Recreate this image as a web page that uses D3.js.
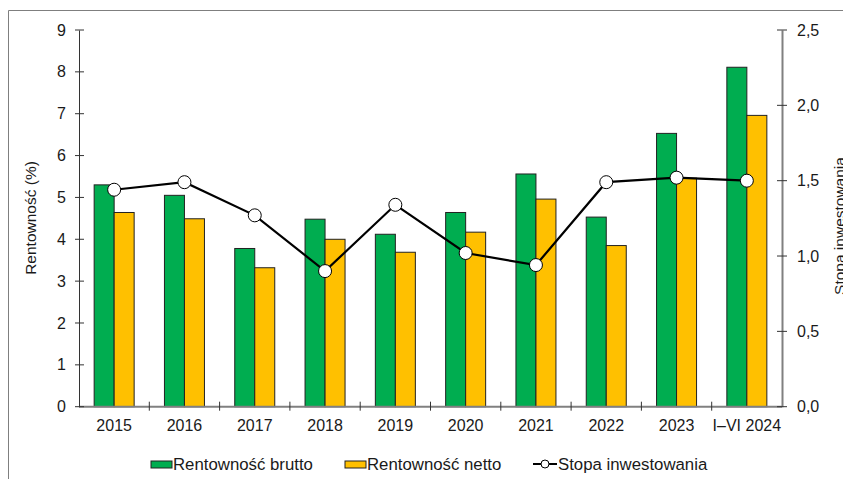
<!DOCTYPE html>
<html><head><meta charset="utf-8">
<script src="https://cdn.jsdelivr.net/npm/d3@7"></script>
<style>
html,body{margin:0;padding:0;background:#fff;}
svg{display:block;font-family:"Liberation Sans",Arial,sans-serif;}
</style></head>
<body>
<svg id="chart" width="843" height="479"></svg>
<script>
const categories = ["2015","2016","2017","2018","2019","2020","2021","2022","2023","I–VI 2024"];
const brutto = [5.30,5.05,3.78,4.48,4.12,4.64,5.56,4.53,6.53,8.11];
const netto  = [4.64,4.49,3.32,4.00,3.69,4.17,4.96,3.85,5.46,6.96];
const stopa  = [1.44,1.49,1.27,0.90,1.34,1.02,0.94,1.49,1.52,1.50];
const leftTicks = [0,1,2,3,4,5,6,7,8,9];
const rightTicks = [0,0.5,1.0,1.5,2.0,2.5];
const seriesNames = ["Rentowność brutto","Rentowność netto"];
const lineName = "Stopa inwestowania";
const leftTitle = "Rentowność (%)";

const svg = d3.select("#chart");
const L = 79, R = 782, T = 30, B = 406.7;
const green = "#00AD50", yellow = "#FFC000";
const FS = 16;

// frame
svg.append("path").attr("d", "M8.5,479 L8.5,10.5 L843,10.5").attr("fill","none").attr("stroke","#7f7f7f").attr("stroke-width",1);

const x = d3.scaleBand().domain(categories).range([L, R]).padding(0);
const y = d3.scaleLinear().domain([0, 9]).range([B, T]);
const y2 = d3.scaleLinear().domain([0, 2.5]).range([B, T]);
const bw = x.bandwidth();
const xs = d3.scaleBand().domain([0,1]).range([bw*0.2155, bw*0.7845]).padding(0);

// bars
const data = categories.map((c,i)=>({c, v:[brutto[i], netto[i]]}));
const g = svg.append("g");
data.forEach(d=>{
  d.v.forEach((v,j)=>{
    g.append("rect")
      .attr("x", x(d.c) + xs(j))
      .attr("y", y(v))
      .attr("width", xs.bandwidth())
      .attr("height", y(0) - y(v))
      .attr("fill", j===0 ? green : yellow)
      .attr("stroke", "#222")
      .attr("stroke-width", 1);
  });
});

// x axis line
svg.append("line").attr("x1", L).attr("x2", R).attr("y1", y(0)).attr("y2", y(0))
  .attr("stroke","#808080").attr("stroke-width",2);
const bounds = categories.map(c=>x(c)).concat([R]);
bounds.forEach((bx,i)=>{
  if(i===0||i===bounds.length-1) return;
  svg.append("line").attr("x1",bx).attr("x2",bx).attr("y1",y(0)-5).attr("y2",y(0)+4)
    .attr("stroke","#333").attr("stroke-width",1);
});
svg.append("g").selectAll("text").data(categories).join("text")
  .attr("x", d=>x(d)+bw/2).attr("y", 431)
  .attr("text-anchor","middle").attr("font-size",FS).attr("fill","#1a1a1a")
  .text(d=>d);

// left axis
const la = svg.append("g").attr("transform",`translate(${L},0)`)
  .call(d3.axisLeft(y).tickValues(leftTicks).tickSize(0).tickPadding(13).tickFormat(d3.format("d")));
la.select(".domain").attr("stroke","#333").attr("stroke-width",1);
la.selectAll("text").attr("font-size",FS).attr("fill","#1a1a1a").attr("font-family","Liberation Sans, Arial, sans-serif");
leftTicks.forEach(t=>{
  svg.append("line").attr("x1",L-4).attr("x2",L+5).attr("y1",y(t)).attr("y2",y(t)).attr("stroke","#333");
});

// right axis
const ra = svg.append("g").attr("transform",`translate(${R},0)`)
  .call(d3.axisRight(y2).tickValues(rightTicks).tickSize(0).tickPadding(15)
    .tickFormat(d=>d3.format(".1f")(d).replace(".",",")));
ra.select(".domain").attr("stroke","#808080").attr("stroke-width",2);
ra.selectAll("text").attr("font-size",FS).attr("fill","#1a1a1a").attr("font-family","Liberation Sans, Arial, sans-serif");
rightTicks.forEach(t=>{
  svg.append("line").attr("x1",R-5).attr("x2",R+5).attr("y1",y2(t)).attr("y2",y2(t)).attr("stroke","#333");
});

// axis titles
svg.append("text").attr("transform",`translate(36,218) rotate(-90)`)
  .attr("text-anchor","middle").attr("font-size",15.5).attr("fill","#1a1a1a").text(leftTitle);
svg.append("text").attr("transform",`translate(845,226) rotate(-90)`)
  .attr("text-anchor","middle").attr("font-size",15.5).attr("fill","#1a1a1a").text(lineName);

// line
const line = d3.line().x((d,i)=>x(categories[i])+bw/2).y(d=>y2(d));
svg.append("path").datum(stopa).attr("d", line).attr("fill","none").attr("stroke","#000").attr("stroke-width",2.2);
svg.append("g").selectAll("circle").data(stopa).join("circle")
  .attr("cx",(d,i)=>x(categories[i])+bw/2).attr("cy",d=>y2(d)).attr("r",6.5)
  .attr("fill","#fff").attr("stroke","#000").attr("stroke-width",1);

// legend
const lg = svg.append("g");
const ly = 464;
[[151, green, seriesNames[0]],[345, yellow, seriesNames[1]]].forEach(([lx,col,name])=>{
  lg.append("rect").attr("x",lx).attr("y",ly-3).attr("width",21).attr("height",7)
    .attr("fill",col).attr("stroke","#222").attr("stroke-width",1);
  lg.append("text").attr("x",lx+22).attr("y",ly+6).attr("font-size",16.8).attr("fill","#1a1a1a").text(name);
});
lg.append("line").attr("x1",533).attr("x2",557).attr("y1",ly).attr("y2",ly).attr("stroke","#000").attr("stroke-width",2);
lg.append("circle").attr("cx",545).attr("cy",ly).attr("r",4).attr("fill","#fff").attr("stroke","#000").attr("stroke-width",1);
lg.append("text").attr("x",558).attr("y",ly+6).attr("font-size",16.8).attr("fill","#1a1a1a").text(lineName);
</script>
</body></html>
